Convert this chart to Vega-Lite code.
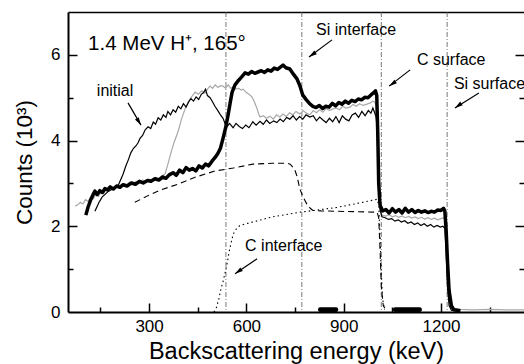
{
  "$schema": "https://vega.github.io/schema/vega-lite/v6.json",
  "width": 456,
  "height": 300,
  "autosize": {"type": "none"},
  "padding": {"left": 68, "top": 12, "right": 0, "bottom": 52},
  "config": {
    "view": {"stroke": null},
    "font": "Liberation Sans",
    "axis": {"grid": false, "labelColor": "black", "titleColor": "black", "tickColor": "black", "domainColor": "black", "titleFontWeight": "normal", "labelFont": "Liberation Sans", "titleFont": "Liberation Sans", "tickWidth": 1.5, "domainWidth": 2, "offset": 0}
  },
  "datasets": {
    "final": [
      {"x":105,"y":2.26},{"x":112,"y":2.45},{"x":120,"y":2.62},{"x":128,"y":2.75},{"x":133,"y":2.82},{"x":140,"y":2.74},{"x":148,"y":2.83},{"x":156,"y":2.79},{"x":164,"y":2.88},{"x":172,"y":2.85},{"x":180,"y":2.92},{"x":190,"y":2.87},{"x":200,"y":2.94},{"x":210,"y":2.91},{"x":220,"y":2.97},{"x":232,"y":2.94},{"x":245,"y":3.01},{"x":258,"y":2.98},{"x":270,"y":3.05},{"x":282,"y":3.01},{"x":295,"y":3.07},{"x":306,"y":3.05},{"x":318,"y":3.11},{"x":330,"y":3.08},{"x":342,"y":3.15},{"x":352,"y":3.12},{"x":362,"y":3.2},{"x":374,"y":3.25},{"x":384,"y":3.19},{"x":394,"y":3.31},{"x":404,"y":3.25},{"x":414,"y":3.37},{"x":424,"y":3.31},{"x":434,"y":3.35},{"x":444,"y":3.29},{"x":454,"y":3.41},{"x":464,"y":3.36},{"x":474,"y":3.45},{"x":484,"y":3.41},{"x":494,"y":3.52},{"x":503,"y":3.6},{"x":512,"y":3.7},{"x":520,"y":3.82},{"x":528,"y":4.05},{"x":536,"y":4.3},{"x":543,"y":4.57},{"x":550,"y":4.88},{"x":556,"y":5.13},{"x":565,"y":5.3},{"x":574,"y":5.39},{"x":585,"y":5.48},{"x":596,"y":5.58},{"x":606,"y":5.55},{"x":616,"y":5.61},{"x":626,"y":5.57},{"x":636,"y":5.6},{"x":646,"y":5.63},{"x":656,"y":5.59},{"x":666,"y":5.65},{"x":676,"y":5.62},{"x":686,"y":5.69},{"x":696,"y":5.66},{"x":706,"y":5.72},{"x":713,"y":5.76},{"x":722,"y":5.7},{"x":734,"y":5.67},{"x":745,"y":5.55},{"x":756,"y":5.44},{"x":765,"y":5.28},{"x":774,"y":5.06},{"x":785,"y":4.95},{"x":795,"y":4.86},{"x":805,"y":4.8},{"x":815,"y":4.77},{"x":825,"y":4.82},{"x":835,"y":4.75},{"x":845,"y":4.8},{"x":855,"y":4.78},{"x":865,"y":4.87},{"x":875,"y":4.81},{"x":885,"y":4.89},{"x":895,"y":4.85},{"x":905,"y":4.92},{"x":915,"y":4.87},{"x":925,"y":4.94},{"x":935,"y":4.91},{"x":945,"y":4.97},{"x":955,"y":4.95},{"x":965,"y":5.01},{"x":975,"y":5.0},{"x":985,"y":5.07},{"x":993,"y":5.12},{"x":998,"y":5.16},{"x":1002,"y":5.05},{"x":1005,"y":4.2},{"x":1008,"y":3.0},{"x":1012,"y":2.5},{"x":1020,"y":2.36},{"x":1030,"y":2.39},{"x":1040,"y":2.31},{"x":1050,"y":2.41},{"x":1060,"y":2.33},{"x":1070,"y":2.39},{"x":1080,"y":2.31},{"x":1090,"y":2.42},{"x":1100,"y":2.33},{"x":1110,"y":2.39},{"x":1120,"y":2.32},{"x":1130,"y":2.37},{"x":1140,"y":2.33},{"x":1150,"y":2.36},{"x":1160,"y":2.32},{"x":1170,"y":2.35},{"x":1180,"y":2.33},{"x":1190,"y":2.38},{"x":1200,"y":2.37},{"x":1208,"y":2.42},{"x":1212,"y":2.35},{"x":1216,"y":1.9},{"x":1220,"y":1.2},{"x":1225,"y":0.5},{"x":1232,"y":0.15},{"x":1240,"y":0.05},{"x":1260,"y":0.03}
    ],
    "initial": [
      {"x":133,"y":2.35},{"x":145,"y":2.55},{"x":155,"y":2.68},{"x":165,"y":2.75},{"x":175,"y":2.82},{"x":185,"y":2.86},{"x":195,"y":2.9},{"x":204,"y":2.94},{"x":212,"y":3.08},{"x":220,"y":3.22},{"x":228,"y":3.4},{"x":236,"y":3.55},{"x":244,"y":3.72},{"x":252,"y":3.82},{"x":260,"y":3.88},{"x":266,"y":3.95},{"x":272,"y":4.05},{"x":280,"y":4.12},{"x":288,"y":4.25},{"x":297,"y":4.32},{"x":305,"y":4.28},{"x":313,"y":4.43},{"x":320,"y":4.38},{"x":328,"y":4.53},{"x":336,"y":4.48},{"x":344,"y":4.6},{"x":352,"y":4.54},{"x":358,"y":4.68},{"x":366,"y":4.6},{"x":374,"y":4.72},{"x":382,"y":4.66},{"x":390,"y":4.8},{"x":398,"y":4.74},{"x":406,"y":4.86},{"x":414,"y":4.78},{"x":422,"y":4.9},{"x":429,"y":4.98},{"x":437,"y":4.92},{"x":445,"y":5.02},{"x":453,"y":4.96},{"x":461,"y":5.08},{"x":468,"y":5.12},{"x":474,"y":5.2},{"x":480,"y":5.05},{"x":488,"y":5.0},{"x":496,"y":4.9},{"x":503,"y":4.8},{"x":512,"y":4.7},{"x":520,"y":4.6},{"x":528,"y":4.52},{"x":535,"y":4.38},{"x":540,"y":4.32},{"x":548,"y":4.4},{"x":559,"y":4.3},{"x":568,"y":4.4},{"x":578,"y":4.33},{"x":588,"y":4.28},{"x":598,"y":4.36},{"x":608,"y":4.3},{"x":620,"y":4.44},{"x":630,"y":4.36},{"x":642,"y":4.45},{"x":652,"y":4.38},{"x":662,"y":4.48},{"x":672,"y":4.4},{"x":684,"y":4.46},{"x":694,"y":4.42},{"x":704,"y":4.5},{"x":714,"y":4.44},{"x":724,"y":4.54},{"x":734,"y":4.5},{"x":744,"y":4.58},{"x":754,"y":4.48},{"x":764,"y":4.56},{"x":774,"y":4.5},{"x":784,"y":4.6},{"x":796,"y":4.55},{"x":806,"y":4.58},{"x":816,"y":4.46},{"x":826,"y":4.55},{"x":836,"y":4.48},{"x":846,"y":4.42},{"x":856,"y":4.52},{"x":866,"y":4.44},{"x":876,"y":4.56},{"x":886,"y":4.42},{"x":896,"y":4.58},{"x":906,"y":4.5},{"x":916,"y":4.46},{"x":926,"y":4.6},{"x":936,"y":4.64},{"x":946,"y":4.54},{"x":956,"y":4.68},{"x":966,"y":4.58},{"x":976,"y":4.7},{"x":984,"y":4.64},{"x":990,"y":4.76},{"x":995,"y":4.66},{"x":1000,"y":4.55},{"x":1004,"y":4.2},{"x":1008,"y":3.2},{"x":1012,"y":2.4},{"x":1018,"y":2.22},{"x":1028,"y":2.2},{"x":1038,"y":2.16},{"x":1048,"y":2.18},{"x":1058,"y":2.12},{"x":1068,"y":2.15},{"x":1078,"y":2.1},{"x":1088,"y":2.13},{"x":1098,"y":2.07},{"x":1108,"y":2.1},{"x":1118,"y":2.04},{"x":1128,"y":2.08},{"x":1138,"y":2.02},{"x":1148,"y":2.06},{"x":1158,"y":2.0},{"x":1168,"y":2.04},{"x":1178,"y":1.98},{"x":1188,"y":2.02},{"x":1198,"y":1.98},{"x":1206,"y":2.0},{"x":1212,"y":1.95},{"x":1216,"y":1.4},{"x":1220,"y":0.6},{"x":1225,"y":0.15},{"x":1232,"y":0.04},{"x":1250,"y":0.02}
    ],
    "mid": [
      {"x":72,"y":2.47},{"x":80,"y":2.5},{"x":88,"y":2.56},{"x":96,"y":2.52},{"x":104,"y":2.62},{"x":112,"y":2.58},{"x":120,"y":2.68},{"x":128,"y":2.64},{"x":136,"y":2.75},{"x":144,"y":2.7},{"x":152,"y":2.8},{"x":160,"y":2.76},{"x":168,"y":2.86},{"x":176,"y":2.82},{"x":184,"y":2.9},{"x":192,"y":2.86},{"x":200,"y":2.94},{"x":210,"y":2.9},{"x":220,"y":2.98},{"x":230,"y":2.94},{"x":240,"y":3.02},{"x":250,"y":2.98},{"x":260,"y":3.05},{"x":270,"y":3.0},{"x":280,"y":3.08},{"x":290,"y":3.04},{"x":300,"y":3.1},{"x":310,"y":3.06},{"x":320,"y":3.14},{"x":330,"y":3.1},{"x":340,"y":3.18},{"x":349,"y":3.22},{"x":358,"y":3.45},{"x":368,"y":3.73},{"x":378,"y":3.98},{"x":389,"y":4.2},{"x":400,"y":4.5},{"x":411,"y":4.74},{"x":420,"y":4.9},{"x":431,"y":5.02},{"x":442,"y":5.13},{"x":452,"y":5.08},{"x":462,"y":5.16},{"x":472,"y":5.1},{"x":480,"y":5.2},{"x":488,"y":5.27},{"x":496,"y":5.22},{"x":504,"y":5.3},{"x":512,"y":5.24},{"x":520,"y":5.28},{"x":528,"y":5.27},{"x":536,"y":5.22},{"x":544,"y":5.3},{"x":552,"y":5.22},{"x":559,"y":5.25},{"x":568,"y":5.2},{"x":576,"y":5.22},{"x":584,"y":5.18},{"x":590,"y":5.2},{"x":600,"y":5.12},{"x":608,"y":5.08},{"x":617,"y":5.02},{"x":625,"y":4.9},{"x":633,"y":4.74},{"x":638,"y":4.62},{"x":642,"y":4.55},{"x":652,"y":4.58},{"x":662,"y":4.52},{"x":673,"y":4.57},{"x":683,"y":4.5},{"x":693,"y":4.6},{"x":703,"y":4.55},{"x":713,"y":4.62},{"x":723,"y":4.56},{"x":733,"y":4.65},{"x":743,"y":4.6},{"x":753,"y":4.68},{"x":765,"y":4.62},{"x":775,"y":4.7},{"x":785,"y":4.64},{"x":796,"y":4.6},{"x":806,"y":4.7},{"x":816,"y":4.65},{"x":826,"y":4.72},{"x":836,"y":4.66},{"x":846,"y":4.75},{"x":856,"y":4.7},{"x":867,"y":4.74},{"x":877,"y":4.76},{"x":887,"y":4.72},{"x":897,"y":4.8},{"x":907,"y":4.76},{"x":919,"y":4.78},{"x":929,"y":4.84},{"x":939,"y":4.8},{"x":949,"y":4.86},{"x":959,"y":4.82},{"x":972,"y":4.85},{"x":982,"y":4.88},{"x":990,"y":4.92},{"x":996,"y":4.9},{"x":1000,"y":4.8},{"x":1004,"y":4.0},{"x":1008,"y":3.0},{"x":1012,"y":2.35},{"x":1018,"y":2.26},{"x":1030,"y":2.24},{"x":1040,"y":2.27},{"x":1050,"y":2.22},{"x":1060,"y":2.25},{"x":1070,"y":2.21},{"x":1080,"y":2.24},{"x":1090,"y":2.2},{"x":1100,"y":2.23},{"x":1110,"y":2.19},{"x":1120,"y":2.22},{"x":1130,"y":2.18},{"x":1140,"y":2.21},{"x":1150,"y":2.17},{"x":1160,"y":2.2},{"x":1170,"y":2.16},{"x":1180,"y":2.19},{"x":1190,"y":2.15},{"x":1200,"y":2.18},{"x":1208,"y":2.2},{"x":1214,"y":2.12},{"x":1218,"y":1.5},{"x":1222,"y":0.7},{"x":1228,"y":0.2},{"x":1236,"y":0.08},{"x":1260,"y":0.06},{"x":1300,"y":0.05},{"x":1350,"y":0.06},{"x":1400,"y":0.05},{"x":1456,"y":0.05}
    ],
    "dashed": [
      {"x":256,"y":2.56},{"x":280,"y":2.65},{"x":306,"y":2.75},{"x":340,"y":2.86},{"x":389,"y":2.98},{"x":440,"y":3.14},{"x":503,"y":3.29},{"x":560,"y":3.36},{"x":620,"y":3.45},{"x":680,"y":3.47},{"x":725,"y":3.47},{"x":735,"y":3.45},{"x":741,"y":3.4},{"x":750,"y":3.3},{"x":756,"y":3.17},{"x":765,"y":2.87},{"x":775,"y":2.68},{"x":787,"y":2.51},{"x":797,"y":2.42},{"x":805,"y":2.37},{"x":830,"y":2.36},{"x":879,"y":2.35},{"x":940,"y":2.34},{"x":1003,"y":2.33},{"x":1008,"y":2.2},{"x":1012,"y":1.5},{"x":1016,"y":0.6},{"x":1022,"y":0.15},{"x":1030,"y":0.05}
    ],
    "dotted": [
      {"x":500,"y":0.0},{"x":506,"y":0.06},{"x":515,"y":0.3},{"x":522,"y":0.55},{"x":528,"y":0.71},{"x":534,"y":0.9},{"x":540,"y":1.11},{"x":548,"y":1.45},{"x":559,"y":1.81},{"x":568,"y":1.93},{"x":580,"y":2.02},{"x":600,"y":2.06},{"x":620,"y":2.1},{"x":680,"y":2.22},{"x":765,"y":2.33},{"x":820,"y":2.38},{"x":879,"y":2.44},{"x":940,"y":2.53},{"x":1003,"y":2.63},{"x":1008,"y":2.5},{"x":1012,"y":1.8},{"x":1016,"y":0.9},{"x":1020,"y":0.3},{"x":1026,"y":0.05}
    ],
    "vlines": [{"x":537},{"x":771},{"x":1016},{"x":1219}],
    "windows": [{"x1":821,"x2":883},{"x1":1052,"x2":1141}],
    "labels": [
      {"label":"initial","x":139,"y":5.04},
      {"label":"Si interface","x":815,"y":6.46},
      {"label":"C surface","x":1126,"y":5.76},
      {"label":"Si surface","x":1240,"y":5.2},
      {"label":"C interface","x":596,"y":1.42}
    ],
    "arrows": [
      {"label":"initial","x1":235,"y1":4.88,"x2":275,"y2":4.36},
      {"label":"Si interface","x1":864,"y1":6.35,"x2":793,"y2":5.95},
      {"label":"C surface","x1":1105,"y1":5.65,"x2":1040,"y2":5.27},
      {"label":"Si surface","x1":1317,"y1":5.11,"x2":1243,"y2":4.76},
      {"label":"C interface","x1":633,"y1":1.24,"x2":565,"y2":0.89}
    ],
    "header": [{"label":"1.4 MeV H⁺, 165°","x":112,"y":6.11}]
  },
  "layer": [
    {
      "data": {"name": "vlines"},
      "mark": {"type": "rule", "color": "#555", "strokeWidth": 0.8, "strokeDash": [5, 2, 1, 2]},
      "encoding": {
        "x": {"field": "x", "type": "quantitative", "scale": {"domain": [50, 1456], "nice": false, "zero": false},
          "axis": {
            "orient": "bottom",
            "offset": 0,
            "title": "Backscattering energy (keV)",
            "values": [300, 600, 900, 1200],
            "format": "d",
            "ticks": false,
            "labelFontSize": 17,
            "labelPadding": 6,
            "titleFontSize": 23.5,
            "titlePadding": 5
          }
        }
      }
    },
    {
      "data": {"name": "mid"},
      "mark": {"type": "line", "color": "#a8a8a8", "strokeWidth": 1.2},
      "encoding": {
        "x": {"field": "x", "type": "quantitative",
          "axis": {"orient": "bottom", "offset": -9, "title": null, "values": [300, 600, 900, 1200], "labels": false, "domain": false, "tickSize": 9}
        },
        "y": {"field": "y", "type": "quantitative", "scale": {"domain": [0, 7], "nice": false},
          "axis": {
            "orient": "left",
            "offset": 0,
            "title": "Counts (10³)",
            "values": [0, 2, 4, 6],
            "format": "d",
            "ticks": false,
            "labelFontSize": 17,
            "labelPadding": 8,
            "titleFontSize": 22.5,
            "titlePadding": 14
          }
        }
      }
    },
    {
      "data": {"name": "initial"},
      "mark": {"type": "line", "color": "black", "strokeWidth": 1.2},
      "encoding": {
        "x": {"field": "x", "type": "quantitative",
          "axis": {"orient": "bottom", "offset": -5, "title": null, "values": [150, 450, 750, 1050, 1350], "labels": false, "domain": false, "tickSize": 5}
        },
        "y": {"field": "y", "type": "quantitative",
          "axis": {"orient": "left", "offset": -9, "title": null, "values": [2, 4, 6], "labels": false, "domain": false, "tickSize": 9}
        }
      }
    },
    {
      "data": {"name": "dashed"},
      "mark": {"type": "line", "color": "black", "strokeWidth": 1.1, "strokeDash": [6, 4]},
      "encoding": {
        "x": {"field": "x", "type": "quantitative",
          "axis": {"orient": "top", "offset": 0, "title": null, "labels": false, "ticks": false, "domain": true, "domainWidth": 1.5}
        },
        "y": {"field": "y", "type": "quantitative",
          "axis": {"orient": "left", "offset": -5, "title": null, "values": [1, 3, 5], "labels": false, "domain": false, "tickSize": 5}
        }
      }
    },
    {
      "data": {"name": "dotted"},
      "mark": {"type": "line", "color": "black", "strokeWidth": 1.1, "strokeDash": [1.5, 3]},
      "encoding": {
        "x": {"field": "x", "type": "quantitative", "axis": null},
        "y": {"field": "y", "type": "quantitative",
          "axis": {"orient": "right", "offset": -9, "title": null, "values": [2, 4, 6], "labels": false, "domain": false, "tickSize": 9}
        }
      }
    },
    {
      "data": {"name": "final"},
      "mark": {"type": "line", "color": "black", "strokeWidth": 3.5, "strokeJoin": "round"},
      "encoding": {
        "x": {"field": "x", "type": "quantitative", "axis": null},
        "y": {"field": "y", "type": "quantitative",
          "axis": {"orient": "right", "offset": -5, "title": null, "values": [1, 3, 5], "labels": false, "domain": false, "tickSize": 5}
        }
      }
    },
    {
      "data": {"name": "windows"},
      "mark": {"type": "rect", "color": "black", "cornerRadius": 2},
      "encoding": {
        "x": {"field": "x1", "type": "quantitative", "axis": null},
        "x2": {"field": "x2"},
        "y": {"datum": 0, "type": "quantitative", "axis": null},
        "y2": {"datum": 0.11}
      }
    },
    {
      "data": {"name": "arrows"},
      "mark": {"type": "rule", "color": "black", "strokeWidth": 1.2},
      "encoding": {
        "x": {"field": "x1", "type": "quantitative", "axis": null},
        "y": {"field": "y1", "type": "quantitative", "axis": null},
        "x2": {"field": "x2"},
        "y2": {"field": "y2"}
      }
    },
    {
      "data": {"name": "arrows"},
      "mark": {"type": "point", "shape": "M0,0L0.55,2L-0.55,2Z", "filled": true, "color": "black", "opacity": 1, "size": 64},
      "encoding": {
        "x": {"field": "x2", "type": "quantitative", "axis": null},
        "y": {"field": "y2", "type": "quantitative", "axis": null},
        "angle": {"condition": {"test": "datum.label === 'initial'", "value": 149}, "value": 235}
      }
    },
    {
      "data": {"name": "labels"},
      "mark": {"type": "text", "align": "left", "baseline": "alphabetic", "font": "Liberation Sans", "fontSize": 16, "color": "black"},
      "encoding": {
        "x": {"field": "x", "type": "quantitative", "axis": null},
        "y": {"field": "y", "type": "quantitative", "axis": null},
        "text": {"field": "label"}
      }
    },
    {
      "data": {"name": "header"},
      "mark": {"type": "text", "align": "left", "baseline": "alphabetic", "font": "Liberation Sans", "fontSize": 20.5, "color": "black"},
      "encoding": {
        "x": {"field": "x", "type": "quantitative", "axis": null},
        "y": {"field": "y", "type": "quantitative", "axis": null},
        "text": {"field": "label"}
      }
    }
  ],
  "resolve": {"axis": {"x": "independent", "y": "independent"}}
}
